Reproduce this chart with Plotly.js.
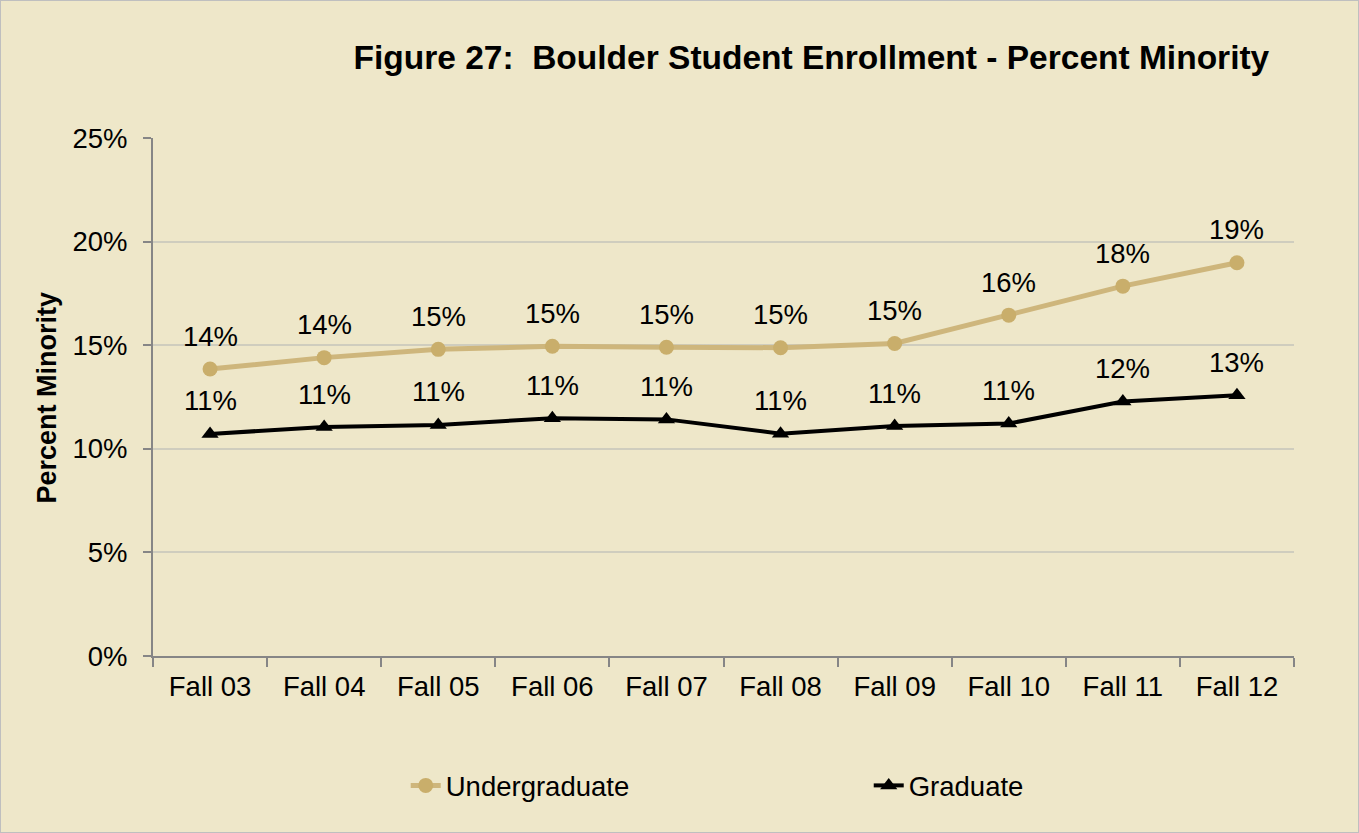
<!DOCTYPE html>
<html><head><meta charset="utf-8">
<script src="https://cdn.plot.ly/plotly-3.0.1.min.js"></script>
<style>html,body{margin:0;padding:0;background:#EEE7C9;}#chart{width:1359px;height:833px;}</style>
</head><body><div id="chart"></div>
<script>
const categories = ["Fall 03","Fall 04","Fall 05","Fall 06","Fall 07","Fall 08","Fall 09","Fall 10","Fall 11","Fall 12"];
const undergraduate = [0.1385, 0.1440, 0.1480, 0.1495, 0.1490, 0.1488, 0.1508, 0.1645, 0.1785, 0.1898];
const graduate = [0.1072, 0.1105, 0.1115, 0.1148, 0.1142, 0.1073, 0.1110, 0.1122, 0.1228, 0.1258];
const yTicks = [0, 0.05, 0.10, 0.15, 0.20, 0.25];

const FONT = "Liberation Sans, Arial, sans-serif";
const FS = 27.5;
const fmt = v => Math.round(v*100) + "%";

const annotations = [];
[undergraduate, graduate].forEach(series => {
  series.forEach((v, i) => {
    annotations.push({x: categories[i], y: v, xref: 'x', yref: 'y', text: fmt(v),
      showarrow: false, yshift: 33, font: {family: FONT, size: FS, color: '#000'}});
  });
});
annotations.push({text: '<b>Percent Minority</b>', xref: 'paper', yref: 'paper', x: -0.0925, y: 0.5,
  xanchor: 'center', yanchor: 'middle', textangle: -90, showarrow: false,
  font: {family: FONT, size: 27, color: '#000'}});

const traces = [
  {x: categories, y: undergraduate, name: 'Undergraduate', type: 'scatter', mode: 'lines+markers',
   line: {color: '#CEB67C', width: 5}, marker: {symbol: 'circle', size: 15, color: '#C9AE6B'}},
  {x: categories, y: graduate, name: 'Graduate', type: 'scatter', mode: 'lines+markers',
   line: {color: '#000000', width: 4}, marker: {symbol: 'triangle-up', size: 15, color: '#000000'}}
];

const layout = {
  width: 1359, height: 833,
  paper_bgcolor: '#EEE7C9', plot_bgcolor: '#EEE7C9',
  margin: {l: 153, r: 65, t: 138, b: 177, autoexpand: false},
  font: {family: FONT, size: FS, color: '#000'},
  title: {text: '<b>Figure 27:  Boulder Student Enrollment - Percent Minority</b>',
    font: {family: FONT, size: 33.5, color: '#000'}, xref: 'paper', x: 0.577, xanchor: 'center',
    yref: 'container', y: 0.9316, yanchor: 'middle'},
  xaxis: {type: 'category', range: [-0.5, categories.length - 0.5], autorange: false,
    showline: true, linecolor: '#868686', linewidth: 2, automargin: false,
    ticks: 'outside', tickson: 'boundaries', ticklen: 9, tickcolor: '#868686', tickwidth: 2,
    ticklabelstandoff: 5,
    showgrid: false, tickfont: {family: FONT, size: FS}, fixedrange: true},
  yaxis: {range: [0, 0.25], tickvals: yTicks, tickformat: '.0%', showline: true, automargin: false,
    linecolor: '#868686', linewidth: 2, ticks: 'outside', ticklen: 8, tickcolor: '#868686', tickwidth: 2,
    ticklabelstandoff: 10,
    showgrid: true, gridcolor: '#CFCDBE', gridwidth: 2, zeroline: false,
    tickfont: {family: FONT, size: FS}},
  legend: {orientation: 'h', x: 0.2215, xanchor: 'left', yref: 'container', y: 0.057, yanchor: 'middle',
    entrywidth: 418, entrywidthmode: 'pixels', font: {family: FONT, size: FS}, bgcolor: 'rgba(0,0,0,0)'},
  showlegend: true,
  annotations: annotations
};

Plotly.newPlot('chart', traces, layout, {displayModeBar: false, staticPlot: true});
</script>
<div style="position:absolute;left:0;top:0;width:1357px;height:831px;border:1px solid #BFBFBF;pointer-events:none;"></div>
</body></html>
